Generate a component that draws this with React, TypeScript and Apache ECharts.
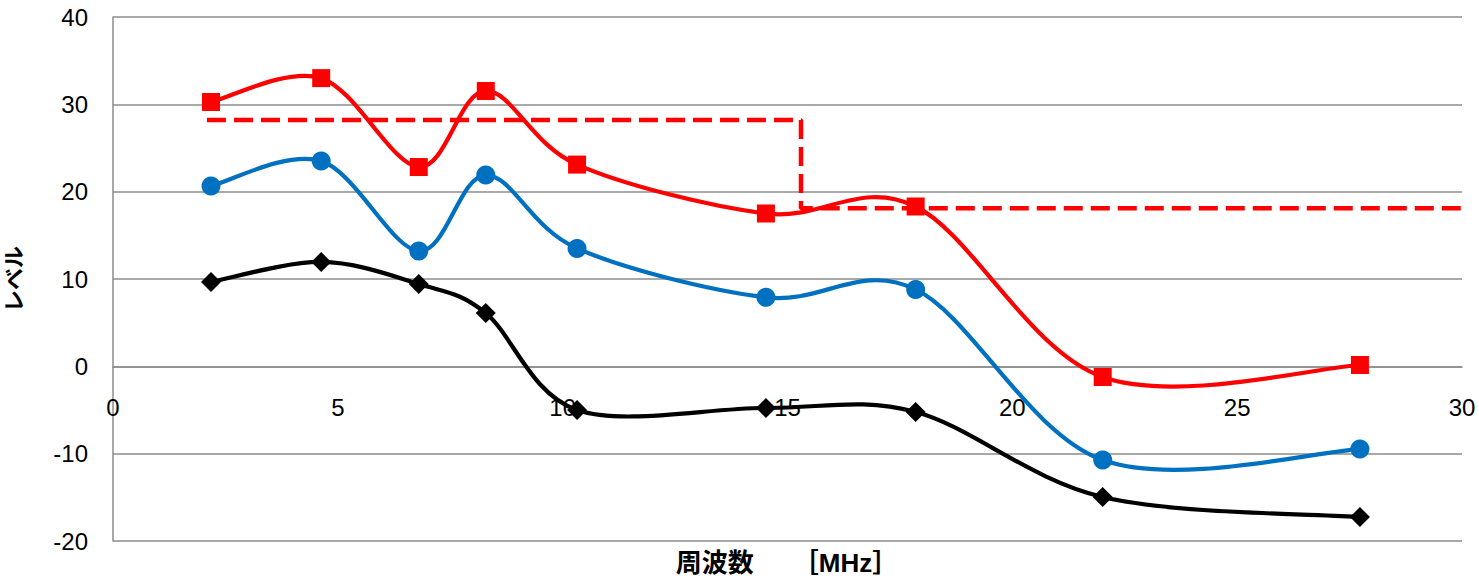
import React, { useEffect, useRef } from "react";
import * as echarts from "echarts";

const freq = [2.18, 4.63, 6.8, 8.29, 10.32, 14.52, 17.85, 22.01, 27.73];
const redLevel = [30.27, 33.0, 22.82, 31.53, 23.1, 17.5, 18.3, -1.22, 0.15];
const blueLevel = [20.65, 23.5, 13.2, 21.9, 13.5, 7.9, 8.8, -10.73, -9.47];
const blackLevel = [9.66, 11.95, 9.43, 6.1, -5.0, -4.77, -5.23, -14.96, -17.25];
const limitX = [2.09, 15.3, 15.3, 30.2];
const limitY = [28.2, 28.2, 18.1, 18.1];
const yTicks = [-20, -10, 0, 10, 20, 30, 40];
const xTicks = [0, 5, 10, 15, 20, 25, 30];
const xName = "周波数　　［MHz］";
const yName = "レベル";

const FONT = "'Liberation Sans', Arial, 'Noto Sans CJK JP', sans-serif";

function pairs(xs: number[], ys: number[]) {
  return xs.map((x, i) => [x, ys[i]]);
}

// Smooth curve (Catmull-Rom style Bezier) drawn through the axes' own scales
function curveSeries(xs: number[], ys: number[], color: string, z: number) {
  return {
    type: "custom",
    coordinateSystem: "cartesian2d",
    data: pairs(xs, ys).slice(0, xs.length - 1),
    encode: { x: 0, y: 1 },
    z,
    silent: true,
    clip: false,
    renderItem: (params: any, api: any) => {
      const i = params.dataIndex;
      const n = xs.length;
      const p = (k: number) => {
        const kk = Math.max(0, Math.min(n - 1, k));
        return api.coord([xs[kk], ys[kk]]);
      };
      const p0 = p(i - 1);
      const p1 = p(i);
      const p2 = p(i + 1);
      const p3 = p(i + 2);
      const t = 1 / 6;
      return {
        type: "bezierCurve",
        shape: {
          x1: p1[0],
          y1: p1[1],
          x2: p2[0],
          y2: p2[1],
          cpx1: p1[0] + (p2[0] - p0[0]) * t,
          cpy1: p1[1] + (p2[1] - p0[1]) * t,
          cpx2: p2[0] - (p3[0] - p1[0]) * t,
          cpy2: p2[1] - (p3[1] - p1[1]) * t,
        },
        style: { stroke: color, lineWidth: 4.2, fill: null, lineCap: "round" },
      };
    },
  };
}

function markerSeries(xs: number[], ys: number[], color: string, symbol: string, size: number, z: number) {
  return {
    type: "scatter",
    data: pairs(xs, ys),
    symbol,
    symbolSize: size,
    itemStyle: { color, opacity: 1 },
    z,
  };
}

export default function App() {
  const ref = useRef<HTMLDivElement>(null);
  useEffect(() => {
    if (!ref.current) return;
    const chart = echarts.init(ref.current, undefined, { renderer: "svg" });
    const plotH = 584 - 17 - 43;
    const zeroOffset = -plotH * (0 - yTicks[0]) / (yTicks[yTicks.length - 1] - yTicks[0]);
    chart.setOption({
      animation: false,
      backgroundColor: "#ffffff",
      textStyle: { fontFamily: FONT },
      grid: { left: 113, top: 17, right: 17, bottom: 43, containLabel: false, outerBoundsMode: "none" },
      xAxis: {
        type: "value",
        min: xTicks[0],
        max: xTicks[xTicks.length - 1],
        interval: 5,
        offset: zeroOffset,
        axisLine: { show: true, onZero: false, lineStyle: { color: "#8c8c8c", width: 1.5 } },
        axisTick: { show: false },
        splitLine: { show: false },
        axisLabel: { margin: 29, fontSize: 24, color: "#000", fontFamily: FONT },
      },
      yAxis: {
        type: "value",
        min: yTicks[0],
        max: yTicks[yTicks.length - 1],
        interval: 10,
        name: yName,
        nameLocation: "middle",
        nameGap: 88,
        nameRotate: 90,
        nameTextStyle: { fontSize: 22, fontWeight: "bold", color: "#000", fontFamily: FONT },
        axisLine: { show: true, onZero: false, lineStyle: { color: "#8c8c8c", width: 1.5 } },
        axisTick: { show: false },
        splitLine: { show: true, lineStyle: { color: "#8c8c8c", width: 1.5 } },
        axisLabel: { margin: 25, fontSize: 24, color: "#000", fontFamily: FONT },
      },
      graphic: [
        {
          type: "text",
          x: 787,
          y: 563,
          style: {
            text: xName,
            fill: "#000",
            font: `bold 26px ${FONT}`,
            textAlign: "center",
            textVerticalAlign: "middle",
          },
        },
      ],
      series: [
        {
          type: "line",
          data: pairs(limitX, limitY),
          showSymbol: false,
          symbol: "none",
          clip: false,
          lineStyle: { color: "#ff0000", width: 4.5, type: [19, 8] },
          z: 3,
        },
        curveSeries(freq, blackLevel, "#000000", 4),
        curveSeries(freq, blueLevel, "#0070c0", 4),
        curveSeries(freq, redLevel, "#ff0000", 5),
        markerSeries(freq, blackLevel, "#000000", "diamond", 20, 6),
        markerSeries(freq, blueLevel, "#0070c0", "circle", 19, 6),
        markerSeries(freq, redLevel, "#ff0000", "rect", 18, 7),
      ],
    });
    return () => chart.dispose();
  }, []);
  return (
    <div
      ref={ref}
      style={{ position: "fixed", left: 0, top: 0, width: 1479, height: 584, background: "#fff" }}
    />
  );
}
